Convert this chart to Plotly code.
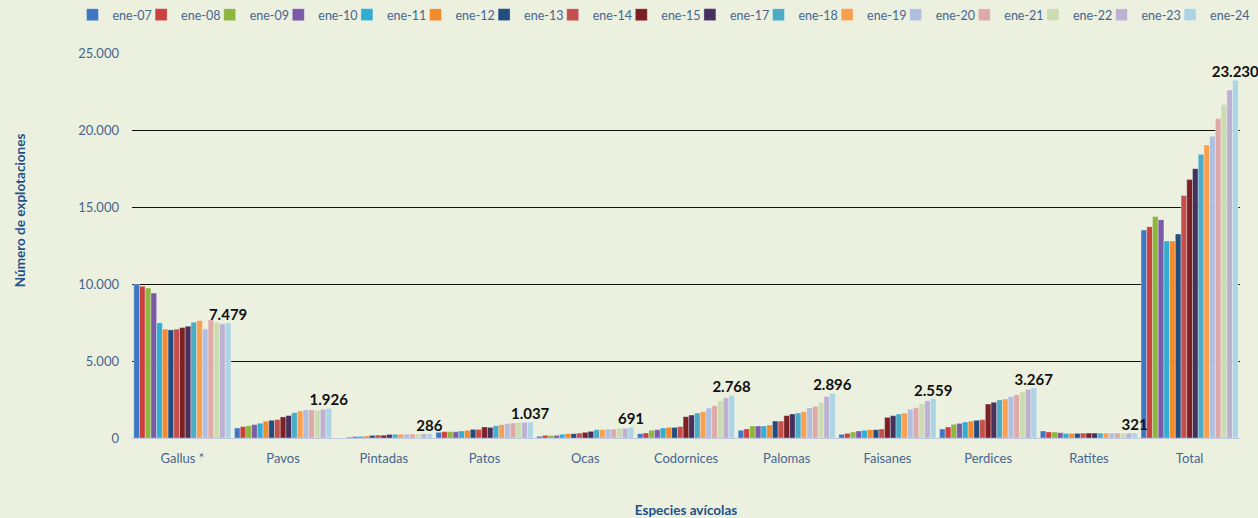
import plotly.graph_objects as go

categories = ["Gallus *", "Pavos", "Pintadas", "Patos", "Ocas", "Codornices",
              "Palomas", "Faisanes", "Perdices", "Ratites", "Total"]

series_names = ["ene-07", "ene-08", "ene-09", "ene-10", "ene-11", "ene-12",
                "ene-13", "ene-14", "ene-15", "ene-17", "ene-18", "ene-19",
                "ene-20", "ene-21", "ene-22", "ene-23", "ene-24"]

colors = ["#3F77C4", "#C9403D", "#8DB63F", "#7B5AA6", "#31ADD0", "#F28A2E",
          "#234D7E", "#C4504D", "#7B2123", "#45305E", "#4BACC6", "#F9A050",
          "#B0BEDF", "#DEAAA8", "#CBDCB1", "#BDB1D2", "#ADD4E2"]

gallus =     [9980, 9850, 9740, 9410, 7480, 7070, 7020, 7070, 7170, 7260, 7520, 7630, 7070, 7670, 7520, 7410, 7479]
pavos =      [650, 740, 800, 870, 960, 1090, 1150, 1200, 1370, 1460, 1650, 1760, 1830, 1830, 1800, 1870, 1926]
pintadas =   [0, 0, 70, 90, 110, 130, 170, 190, 180, 230, 240, 250, 250, 260, 260, 275, 286]
patos =      [370, 410, 410, 410, 455, 500, 560, 560, 715, 690, 800, 865, 930, 975, 1020, 1020, 1037]
ocas =       [110, 170, 170, 170, 240, 280, 280, 320, 370, 430, 540, 540, 580, 580, 650, 630, 691]
codornices = [280, 325, 500, 540, 650, 690, 690, 740, 1385, 1490, 1620, 1710, 1950, 2100, 2420, 2600, 2768]
palomas =    [500, 585, 780, 780, 780, 845, 1100, 1100, 1450, 1560, 1620, 1710, 1950, 2060, 2320, 2700, 2896]
faisanes =   [240, 300, 390, 455, 500, 540, 540, 585, 1340, 1450, 1560, 1620, 1860, 1970, 2230, 2420, 2559]
perdices =   [585, 715, 890, 950, 1040, 1100, 1150, 1190, 2210, 2320, 2470, 2530, 2700, 2810, 3010, 3160, 3267]
ratites =    [455, 390, 390, 345, 300, 300, 300, 320, 320, 320, 320, 320, 320, 320, 320, 320, 321]
total =      [13500, 13720, 14390, 14180, 12790, 12790, 13250, 15740, 16780, 17490, 18420, 19030, 19590, 20740, 21650, 22600, 23230]

groups = [gallus, pavos, pintadas, patos, ocas, codornices, palomas,
          faisanes, perdices, ratites, total]

y_ticks = [0, 5000, 10000, 15000, 20000, 25000]

text_color = "#46658F"
title_color = "#23518A"
font_family = "Lato, 'Noto Sans', sans-serif"

# legend layout (one single-entry legend per series, laid out in a row)
LEGEND_LEFT_PX = 72.5
LEGEND_PITCH_PX = 68.6
FIG_W, FIG_H = 1258, 518

fig = go.Figure()
legend_layouts = {}
for i, name in enumerate(series_names):
    vals = [g[i] for g in groups]
    is_last = (i == len(series_names) - 1)
    legend_id = "legend" if i == 0 else f"legend{i + 1}"
    legend_layouts[legend_id] = dict(
        orientation="h",
        xref="container", yref="container",
        x=(LEGEND_LEFT_PX + i * LEGEND_PITCH_PX) / FIG_W, y=1.0,
        xanchor="left", yanchor="top",
        font=dict(family=font_family, size=12.5, color=text_color),
        bgcolor="rgba(0,0,0,0)",
        visible=True,
    )
    fig.add_trace(go.Bar(
        name=name,
        x=categories,
        y=vals,
        legend=legend_id,
        showlegend=True,
        marker=dict(color=colors[i],
                    line=dict(color="rgba(255,255,255,0.55)", width=0.6)),
        texttemplate="<b>%{y:,.0f}</b>" if is_last else None,
        textposition="outside" if is_last else "none",
        textfont=dict(family=font_family, size=15, color="#111111"),
        constraintext="none",
        cliponaxis=False,
    ))

fig.update_layout(
    width=FIG_W,
    height=FIG_H,
    showlegend=True,
    barmode="group",
    bargap=0.035,
    bargroupgap=0,
    separators=",.",
    paper_bgcolor="#ECF0DF",
    plot_bgcolor="#ECF0DF",
    font=dict(family=font_family, size=13, color=text_color),
    margin=dict(l=132, r=18, t=53, b=80),
    xaxis=dict(
        showline=True, linecolor="#BFC9D9", linewidth=1,
        showgrid=False, ticks="", ticklabelstandoff=8,
        tickfont=dict(family=font_family, size=13, color=text_color),
        title=dict(text="<b>Especies avícolas</b>", standoff=40,
                   font=dict(family=font_family, size=13.5, color=title_color)),
        automargin=False,
    ),
    yaxis=dict(
        range=[0, 25000],
        tickvals=y_ticks,
        tickformat=",d",
        showgrid=True, gridcolor="#111111", gridwidth=1.3,
        zeroline=False, showline=False, ticks="",
        ticklabelstandoff=12,
        tickfont=dict(family=font_family, size=13, color=text_color),
        automargin=False,
    ),
    annotations=[dict(
        text="<b>Número de explotaciones</b>",
        xref="paper", yref="paper",
        x=-0.101, y=0.592,
        xanchor="center", yanchor="middle",
        textangle=-90, showarrow=False,
        font=dict(family=font_family, size=13.5, color=title_color),
    )],
)
fig.update_layout(**legend_layouts)

fig.write_html("out.html", config={"displayModeBar": False},
               post_script="document.body.style.margin='0';")
